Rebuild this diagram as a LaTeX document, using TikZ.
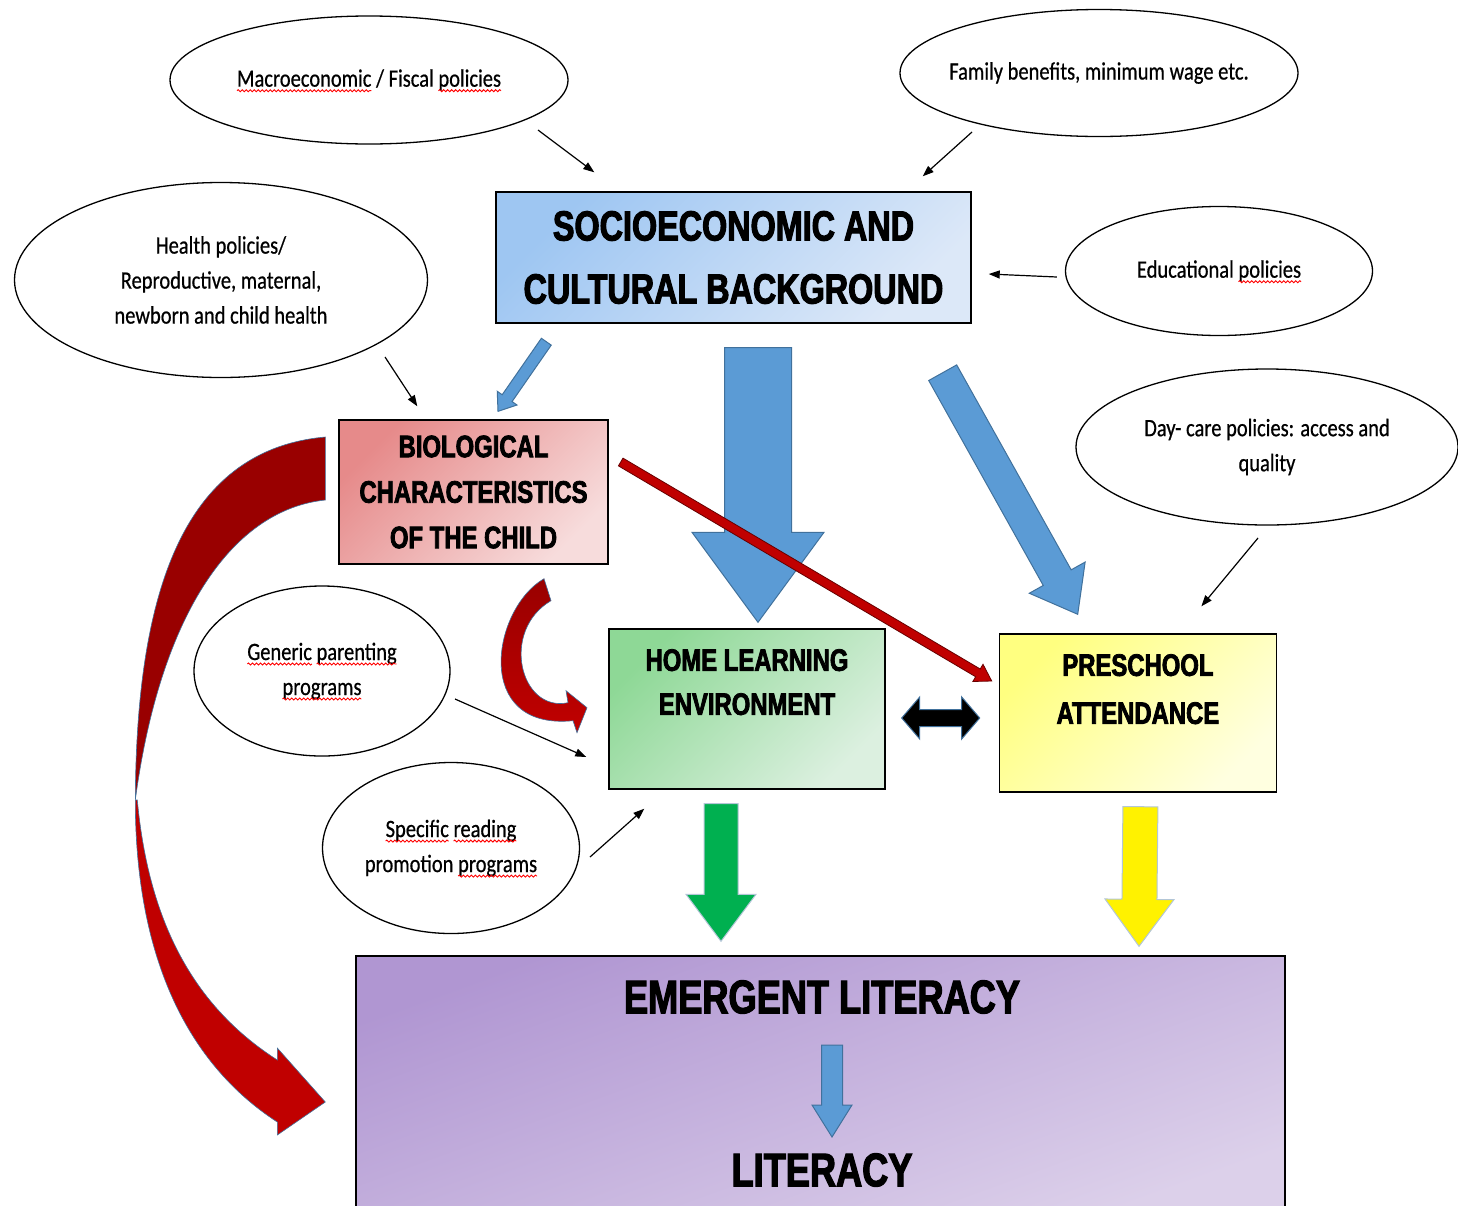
\documentclass[tikz,border=0pt]{standalone}
\usepackage{fontspec}
\usetikzlibrary{arrows.meta,positioning,shapes.geometric,calc,decorations.pathmorphing}

\setmainfont{Carlito}
\newfontfamily\headfont{Liberation Sans}[FakeStretch=0.77,BoldFeatures={FakeBold=2.5}]
\newfontfamily\ovalfont{Carlito}[FakeStretch=0.82,FakeBold=0.6]

\definecolor{socioA}{HTML}{9EC6F2}
\definecolor{socioB}{HTML}{DCE8F8}
\definecolor{bioA}{HTML}{E68A8A}
\definecolor{bioB}{HTML}{F7DCDC}
\definecolor{homeA}{HTML}{8ED896}
\definecolor{homeB}{HTML}{DCF0E0}
\definecolor{preA}{HTML}{FFFF80}
\definecolor{preB}{HTML}{FFFFE0}
\definecolor{litA}{HTML}{B096D2}
\definecolor{litB}{HTML}{DCD0EA}
\definecolor{arrowblue}{HTML}{5B9BD5}
\definecolor{arrowedge}{HTML}{41719C}
\definecolor{ribbonback}{HTML}{990000}
\definecolor{ribbonfront}{HTML}{C00000}
\definecolor{arrowgreen}{HTML}{00B050}

% red spell-check wave under a word
\newsavebox{\wavebox}
\newcommand{\spellwave}[1]{\sbox{\wavebox}{#1}\rlap{\usebox{\wavebox}}%
  \tikz[baseline=0pt]{\useasboundingbox (0pt,0pt) rectangle (\wd\wavebox,0pt);
    \draw[red, line width=0.9pt, decorate, decoration={snake, amplitude=1pt, segment length=4pt}] (0pt,-4pt) -- (\wd\wavebox,-4pt);}}

% block arrow: [style]{from}{to}{half shaft}{half head}{head length}
\newcommand{\fatarrow}[6][]{%
  \path[fat,#1] let \p1=($(#3)-(#2)$), \n1={atan2(\y1,\x1)} in
    ($(#2)+({\n1+90}:#4)$)
    -- ($(#3)+({\n1+180}:#6)+({\n1+90}:#4)$)
    -- ($(#3)+({\n1+180}:#6)+({\n1+90}:#5)$)
    -- (#3)
    -- ($(#3)+({\n1+180}:#6)+({\n1-90}:#5)$)
    -- ($(#3)+({\n1+180}:#6)+({\n1-90}:#4)$)
    -- ($(#2)+({\n1-90}:#4)$) -- cycle;}

% block arrow with two heads
\newcommand{\fatdblarrow}[6][]{%
  \path[fat,#1] let \p1=($(#3)-(#2)$), \n1={atan2(\y1,\x1)} in
    (#2)
    -- ($(#2)+({\n1}:#6)+({\n1+90}:#5)$)
    -- ($(#2)+({\n1}:#6)+({\n1+90}:#4)$)
    -- ($(#3)+({\n1+180}:#6)+({\n1+90}:#4)$)
    -- ($(#3)+({\n1+180}:#6)+({\n1+90}:#5)$)
    -- (#3)
    -- ($(#3)+({\n1+180}:#6)+({\n1-90}:#5)$)
    -- ($(#3)+({\n1+180}:#6)+({\n1-90}:#4)$)
    -- ($(#2)+({\n1}:#6)+({\n1-90}:#4)$)
    -- ($(#2)+({\n1}:#6)+({\n1-90}:#5)$) -- cycle;}

\begin{document}
\begin{tikzpicture}[
  x=1pt, y=-1pt,
  >={Triangle[length=11pt,width=8pt]},
  oval/.style={ellipse, draw=black, line width=1.3pt, inner xsep=-25pt, inner ysep=-5pt, align=center, font=\ovalfont\fontsize{25}{35}\selectfont},
  box/.style={rectangle, draw=black, line width=1.4pt, inner sep=0pt, align=center},
  sociobox/.style={box, top color=socioA, bottom color=socioB, shading angle=45, font=\headfont\bfseries\fontsize{42}{63}\selectfont},
  biobox/.style={box, top color=bioA, bottom color=bioB, shading angle=45, font=\headfont\bfseries\fontsize{31}{45.5}\selectfont},
  homebox/.style={box, top color=homeA, bottom color=homeB, shading angle=45, font=\headfont\bfseries\fontsize{31}{44}\selectfont},
  prebox/.style={box, top color=preA, bottom color=preB, shading angle=45, font=\headfont\bfseries\fontsize{31}{48}\selectfont},
  litbox/.style={box, top color=litA, bottom color=litB, shading angle=20},
  littext/.style={inner sep=0pt, font=\headfont\bfseries\fontsize{47}{56}\selectfont},
  thinarrow/.style={->, line width=1.2pt},
  fat/.style={fill=arrowblue, draw=arrowedge, line width=1pt, line join=miter},
  ribbon/.style={draw=arrowedge, line width=0.6pt}
]
\useasboundingbox (0,0) rectangle (1458,1205);

% Policy ovals
\node[oval, minimum width=398pt, minimum height=128pt] (macro) at (369,80) {\spellwave{Macroeconomic} / Fiscal \spellwave{policies}};
\node[oval, minimum width=398pt, minimum height=127pt] (family) at (1099,73) {Family benefits, minimum wage etc.};
\node[oval, minimum width=413pt, minimum height=195pt] (health) at (221,280) {Health policies/\\Reproductive, maternal,\\newborn and child health};
\node[oval, minimum width=307pt, minimum height=129pt] (educ) at (1219,271) {Educational \spellwave{policies}};
\node[oval, minimum width=382pt, minimum height=156pt] (daycare) at (1267,447) {Day- care policies: access and\\quality};
\node[oval, minimum width=256pt, minimum height=170pt] (generic) at (322,671) {\spellwave{Generic} \spellwave{parenting}\\\spellwave{programs}};
\node[oval, minimum width=257pt, minimum height=171pt] (reading) at (451,848) {\spellwave{Specific} \spellwave{reading}\\promotion \spellwave{programs}};

% Main boxes
\node[sociobox, minimum width=475pt, minimum height=131pt] (socio) at (733.5,257.5) {SOCIOECONOMIC AND\\CULTURAL BACKGROUND};
\node[biobox, minimum width=269pt, minimum height=144pt] (bio) at (473.5,492) {BIOLOGICAL\\CHARACTERISTICS\\OF THE CHILD};
\node[homebox, minimum width=276pt, minimum height=160pt] (home) at (747,709) {HOME LEARNING\\ENVIRONMENT\\[10pt]~};
\node[prebox, minimum width=277pt, minimum height=158pt, right=113pt of home, yshift=-4pt] (pre) {PRESCHOOL\\ATTENDANCE\\~};
\node[litbox, minimum width=929pt, minimum height=259pt] (emergent) at (820.5,1085.5) {};
\node[littext] (emlit) at (822,997) {EMERGENT LITERACY};
\node[littext] (lit) at (822,1170) {LITERACY};

% Policy arrows
\draw[thinarrow] ([shift={(169,50)}]macro.center) -- ([shift={(99,-19)}]socio.north west);
\draw[thinarrow] ([shift={(-127,59)}]family.center) -- ([shift={(-49,-15)}]socio.north east);
\draw[thinarrow] ([shift={(-8,6)}]educ.west) -- ([shift={(17,16.5)}]socio.east);
\draw[thinarrow] ([shift={(164,77)}]health.center) -- ([shift={(79,-13)}]bio.north west);
\draw[thinarrow] ([shift={(-9,91)}]daycare.center) -- ([shift={(63.5,-27)}]pre.north);
\draw[thinarrow] ([shift={(133,28)}]generic.center) -- ([shift={(-22,48)}]home.west);
\draw[thinarrow] ([shift={(139,9)}]reading.center) -- ([shift={(36,19)}]home.south west);

% Block arrow ends
\coordinate (sbA) at ([shift={(51,18)}]socio.south west);
\coordinate (sbB) at ([shift={(24.5,-8)}]bio.north);
\coordinate (shA) at ([shift={(24.5,24)}]socio.south);
\coordinate (shB) at ([shift={(11,-6)}]home.north);
\coordinate (spA) at ([shift={(-29,49)}]socio.south east);
\coordinate (spB) at ([shift={(79,-19)}]pre.north west);
\coordinate (bpA) at ([shift={(12,-30)}]bio.east);
\coordinate (bpB) at ([shift={(-7,-32)}]pre.west);
\coordinate (hpA) at ([shift={(16,9)}]home.east);
\coordinate (hpB) at ([shift={(-19,5)}]pre.west);
\coordinate (heA) at ([shift={(-26,14)}]home.south);
\coordinate (heB) at ([shift={(-99.5,-14)}]emergent.north);
\coordinate (peA) at ([shift={(2.5,14)}]pre.south);
\coordinate (peB) at ([shift={(318.5,-9)}]emergent.north);
\coordinate (llA) at ([shift={(10,48)}]emlit.center);
\coordinate (llB) at ([shift={(10,-33)}]lit.center);

% Block arrows
\fatarrow{sbA}{sbB}{6pt}{12pt}{16pt}
\fatarrow{shA}{shB}{33.5pt}{66pt}{90pt}
\fatarrow{spA}{spB}{16pt}{32pt}{42pt}
\fatarrow[fill=ribbonfront, draw=red!40!black, line width=0.8pt]{bpA}{bpB}{4.5pt}{10pt}{16pt}
\fatdblarrow[fill=black]{hpA}{hpB}{8.5pt}{21pt}{18pt}
\fatarrow[fill=arrowgreen, draw=arrowedge!40]{heA}{heB}{17pt}{35pt}{47pt}
\fatarrow[fill=yellow, draw=arrowedge!40]{peA}{peB}{17.5pt}{34.5pt}{47pt}
\fatarrow{llA}{llB}{10.5pt}{20pt}{32pt}

% Curved arrow: bio -> emergent literacy
\begin{scope}[shift={(bio.west)}]
  \path[ribbon, fill=ribbonback] (-13,-55) .. controls (-159,-42) and (-202,108) .. (-203,308)
    .. controls (-179,128) and (-109,18) .. (-13,8) -- cycle;
  \path[ribbon, fill=ribbonfront] (-203,308) .. controls (-203,468) and (-149,573) .. (-61,630)
    -- (-61,643) -- (-13,610) -- (-61,556) -- (-61,568)
    .. controls (-139,518) and (-189,438) .. (-201,308) -- cycle;
\end{scope}

% Curved arrow: bio -> home
\begin{scope}[shift={(bio.south)}]
  \path[ribbon, top color=ribbonback, bottom color=ribbonfront] (70.5,14) .. controls (18.5,44) and (-1.5,166) .. (99.5,156)
    -- (103.5,168) -- (113.5,143) -- (92.5,126) -- (94.5,138)
    .. controls (46.5,148) and (26.5,66) .. (77.5,36) -- cycle;
\end{scope}

\end{tikzpicture}
\end{document}
